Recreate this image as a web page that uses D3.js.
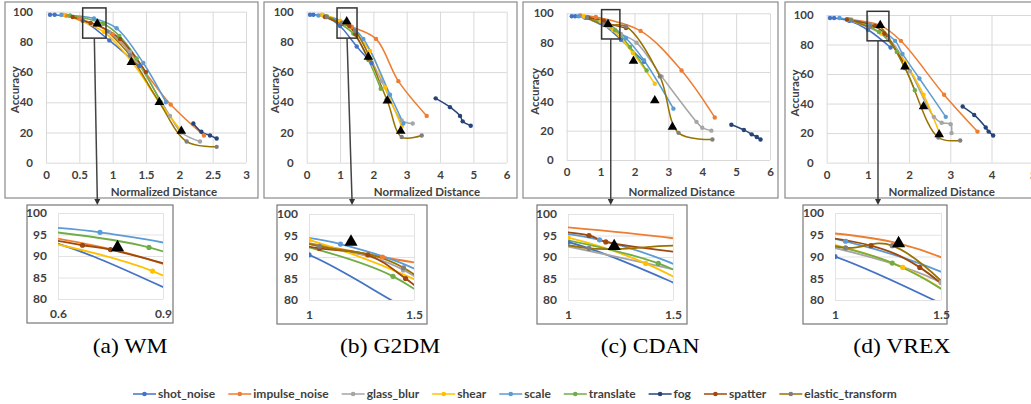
<!DOCTYPE html>
<html><head><meta charset="utf-8">
<script src="https://cdn.jsdelivr.net/npm/d3@7"></script>
<style>body{margin:0;background:#fff}svg{display:block}</style>
</head><body>
<svg id="c" width="1031" height="404"></svg>
<script>
// ---------- data ----------
const seriesNames = ["shot_noise","impulse_noise","glass_blur","shear","scale","translate","fog","spatter","elastic_transform"];
const lineColors   = ["#4472C4","#ED7D31","#A5A5A5","#FFC000","#5B9BD5","#70AD47","#264478","#9E480E","#997300"];
const markerColors = ["#4472C4","#ED7D31","#A5A5A5","#FFC000","#5B9BD5","#70AD47","#264478","#9E480E","#7F7F7F"];
const captions = ["(a) WM","(b) G2DM","(c) CDAN","(d) VREX"];
const yTicks = [0,20,40,60,80,100];
const insetYTicks = [80,85,90,95,100];
const xTicksWM = [0,0.5,1,1.5,2,2.5,3];
const xTicksG2DM = [0,1,2,3,4,5,6];
const xTicksCDAN = [0,1,2,3,4,5,6];
const xTicksVREX = [0,1,2,3,4,5];

// WM
const wmSeries = [
  [[0.06,98],[0.13,98],[0.55,94],[0.95,81],[1.4,64]],
  [[0.3,97.5],[0.5,95.5],[1.0,85],[1.87,38.5],[2.37,18]],
  [[0.95,86.5],[1.26,73.5],[1.86,31],[2.03,20],[2.31,14]],
  [[0.26,98],[0.87,86.5],[1.3,66],[1.7,40],[2.03,21]],
  [[0.23,98],[0.72,95.5],[1.06,89],[1.46,66],[1.8,40]],
  [[0.36,97.5],[0.86,92],[1.1,84],[1.36,69],[1.72,40]],
  [[2.21,26],[2.33,20.5],[2.46,18],[2.56,16]],
  [[0.4,96.5],[0.67,92.5],[0.75,91.5],[1.11,82],[1.5,60]],
  [[0.92,87],[1.26,71],[1.7,40],[2.11,14],[2.56,10.5]]
];
const wmTriangles = [[0.77,92],[1.28,66.5],[1.7,40],[2.03,21]];

// G2DM
const g2dmSeries = [
  [[0.1,98],[0.2,98],[0.6,96.5],[1.0,90.5],[1.5,77],[1.95,66]],
  [[0.5,97.5],[1.35,90],[2.08,82],[2.75,54],[3.6,31]],
  [[0.55,97],[1.05,92.5],[1.45,87],[2.25,54],[2.85,28],[3.18,26]],
  [[0.45,98],[1.0,94],[1.9,74],[2.35,50],[2.85,24]],
  [[0.35,97.5],[1.15,93],[1.7,82],[2.5,45],[2.9,26]],
  [[0.6,97],[1.4,85.5],[1.85,68],[2.22,49]],
  [[3.87,42.6],[4.3,36.8],[4.6,31],[4.68,27.4],[4.92,24.5]],
  [[0.55,96.5],[1.05,92],[1.28,90.5],[1.46,85],[1.85,69]],
  [[0.6,96.5],[1.05,92.5],[1.45,87.5],[2.4,42],[2.85,17],[3.45,18]]
];
const g2dmTriangles = [[1.2,93.5],[1.85,70],[2.42,41],[2.82,21]];

// CDAN
const cdanSeries = [
  [[0.15,98],[0.25,98],[0.55,97],[1.0,93.5],[1.6,82],[2.28,67]],
  [[0.4,98.5],[0.86,97.5],[2.18,88],[3.39,61],[4.37,29]],
  [[0.5,97.5],[1.6,86],[2.06,80],[2.8,57],[3.83,26],[4.0,22],[4.27,20]],
  [[0.51,98],[1.0,94.5],[1.37,88.5],[1.95,73],[2.6,52]],
  [[0.35,98],[1.15,94],[1.75,83],[2.28,68],[3.15,35]],
  [[0.6,97.5],[1.43,88.5],[1.87,77],[2.36,61]],
  [[4.86,24],[5.23,20.5],[5.46,17.5],[5.61,15.7],[5.72,14]],
  [[0.64,97],[1.1,95],[1.18,93.5],[1.75,90]],
  [[0.6,97],[1.1,92],[1.75,91],[2.75,57],[3.3,18.5],[4.3,14]]
];
const cdanTriangles = [[1.22,92.5],[1.97,67.5],[2.6,40.5],[3.12,22.5]];

// VREX
const vrexSeries = [
  [[0.08,98],[0.18,98],[0.55,96],[1.0,90],[1.55,78]],
  [[0.5,97],[1.3,93],[1.8,82.5],[2.85,46],[3.66,21]],
  [[0.5,97],[1.5,84],[2.02,62],[2.6,31],[2.79,27],[3.01,26],[3.03,20]],
  [[0.6,97],[1.32,87.5],[1.9,68],[2.35,46],[2.75,19]],
  [[0.31,98],[1.05,93.5],[1.66,82.5],[1.84,73.6],[2.25,57],[2.89,31]],
  [[0.55,97],[1.27,88.5],[1.7,75],[2.14,49]],
  [[3.3,38],[3.58,32.3],[3.86,23.8],[3.93,21],[4.04,18.4]],
  [[0.49,97],[1.17,92.5],[1.4,87.5],[1.9,66]],
  [[0.6,96.5],[1.05,92],[1.27,92.5],[1.9,64],[2.71,17],[3.24,15]]
];
const vrexTriangles = [[1.3,93],[1.9,65],[2.35,38],[2.73,19]];

// ---------- layout ----------
const layout = [
  {series: wmSeries, tri: wmTriangles, xTicks: xTicksWM, xDomain:[0,3], xRange:[46,246], yRange:[162.7,11.7],
   box:[5,2,258,198], accX:15, titleX:164, zoomX:[0.55,0.9], arrowDx:3,
   inset:{box:[27,205,173,323], xDomain:[0.6,0.9], xRange:[58,163], yRange:[299,213], xLabels:["0.6","0.9"]},
   capX:92.7},
  {series: g2dmSeries, tri: g2dmTriangles, xTicks: xTicksG2DM, xDomain:[0,6], xRange:[306.7,506.7], yRange:[162.7,11.7],
   box:[264,2,517,198], accX:275, titleX:427, zoomX:[0.91,1.51], arrowDx:5,
   inset:{box:[277,205,427,324], xDomain:[1,1.5], xRange:[309,414], yRange:[300,214], xLabels:["1","1.5"]},
   capX:340},
  {series: cdanSeries, tri: cdanTriangles, xTicks: xTicksCDAN, xDomain:[0,6], xRange:[566.7,770], yRange:[160,13.3],
   box:[523,2,778,198], accX:535, titleX:681.7, zoomX:[1.03,1.57], arrowDx:0,
   inset:{box:[537,205,687,324], xDomain:[1,1.5], xRange:[568,673], yRange:[300,214], xLabels:["1","1.5"]},
   capX:600.7},
  {series: vrexSeries, tri: vrexTriangles, xTicks: xTicksVREX, xDomain:[0,5], xRange:[826.7,1032.7], yRange:[162.6,15],
   box:[785,2,1040,198], accX:795, titleX:941.7, zoomX:[0.98,1.51], arrowDx:0,
   inset:{box:[803,205,947,324], xDomain:[1,1.5], xRange:[835,941], yRange:[300,213], xLabels:["1","1.5"]},
   capX:853.3}
];

const FONT = "Lato, 'Open Sans', sans-serif";
const TXT = "#404040";
const svg = d3.select("#c");
svg.append("rect").attr("width",1031).attr("height",404).attr("fill","#fff");

const curve = d3.curveCatmullRom.alpha(0.5);

function drawSeries(g, x, y, series, tri, lw, r, triSize){
  const line = d3.line().x(d=>x(d[0])).y(d=>y(d[1])).curve(curve);
  series.forEach((pts,i)=>{
    g.append("path").datum(pts).attr("d",line).attr("fill","none")
      .attr("stroke",lineColors[i]).attr("stroke-width",lw).attr("stroke-linejoin","round");
  });
  series.forEach((pts,i)=>{
    g.selectAll(null).data(pts).enter().append("circle")
      .attr("cx",d=>x(d[0])).attr("cy",d=>y(d[1])).attr("r",r).attr("fill",markerColors[i]);
  });
  const sym = d3.symbol().type(d3.symbolTriangle).size(triSize);
  g.selectAll(null).data(tri).enter().append("path")
    .attr("d",sym).attr("transform",d=>`translate(${x(d[0])},${y(d[1])})`).attr("fill","#000");
}

layout.forEach((p,pi)=>{
  const g = svg.append("g");
  g.append("rect").attr("x",p.box[0]).attr("y",p.box[1]).attr("width",p.box[2]-p.box[0]).attr("height",p.box[3]-p.box[1])
    .attr("fill","#fff").attr("stroke","#8a8a8a").attr("stroke-width",1.2);
  const x = d3.scaleLinear().domain(p.xDomain).range(p.xRange);
  const y = d3.scaleLinear().domain([0,100]).range(p.yRange);
  const ph = p.yRange[0]-p.yRange[1], pw = p.xRange[1]-p.xRange[0];

  const gx = g.append("g").attr("transform",`translate(0,${p.yRange[0]})`)
    .call(d3.axisBottom(x).tickValues(p.xTicks).tickSize(-ph).tickPadding(8).tickFormat(d3.format("~g")));
  const gy = g.append("g").attr("transform",`translate(${p.xRange[0]},0)`)
    .call(d3.axisLeft(y).tickValues(yTicks).tickSize(-pw).tickPadding(13));
  [gx,gy].forEach(a=>{
    a.select(".domain").remove();
    a.selectAll("line").attr("stroke","#d9d9d9").attr("stroke-width",1);
    a.selectAll("text").attr("fill",TXT).style("font-family",FONT).style("font-size","11.5px").style("font-weight","700");
  });

  g.append("text").attr("transform",`translate(${p.accX},${p.yRange[1]+78}) rotate(-90)`)
    .attr("text-anchor","middle").attr("dy","0.35em").attr("fill",TXT)
    .style("font-family",FONT).style("font-size","11.5px").style("font-weight","700").text("Accuracy");
  g.append("text").attr("x",p.titleX).attr("y",191.5).attr("dy","0.35em").attr("text-anchor","middle").attr("fill",TXT)
    .style("font-family",FONT).style("font-size","11.5px").style("font-weight","700").text("Normalized Distance");

  drawSeries(g.append("g"), x, y, p.series, p.tri, 1.5, 2.2, 40);

  // zoom rectangle
  const zx0 = x(p.zoomX[0]), zx1 = x(p.zoomX[1]), zy0 = y(102.5), zy1 = y(82.5);
  g.append("rect").attr("x",zx0).attr("y",zy0).attr("width",zx1-zx0).attr("height",zy1-zy0)
    .attr("fill","none").attr("stroke","#333").attr("stroke-width",1.5);

  // inset
  const ins = p.inset;
  const xi = d3.scaleLinear().domain(ins.xDomain).range(ins.xRange);
  const yi = d3.scaleLinear().domain([80,100]).range(ins.yRange);
  const gi = svg.append("g");
  gi.append("rect").attr("x",ins.box[0]).attr("y",ins.box[1]).attr("width",ins.box[2]-ins.box[0]).attr("height",ins.box[3]-ins.box[1])
    .attr("fill","#fff").attr("stroke","#777").attr("stroke-width",1.2);
  const iph = ins.yRange[0]-ins.yRange[1], ipw = ins.xRange[1]-ins.xRange[0];
  const gix = gi.append("g").attr("transform",`translate(0,${ins.yRange[0]})`)
    .call(d3.axisBottom(xi).tickValues(ins.xDomain).tickSize(-iph).tickPadding(10).tickFormat((d,i)=>ins.xLabels[i]));
  const giy = gi.append("g").attr("transform",`translate(${ins.xRange[0]},0)`)
    .call(d3.axisLeft(yi).tickValues(insetYTicks).tickSize(-ipw).tickPadding(11));
  [gix,giy].forEach(a=>{
    a.select(".domain").remove();
    a.selectAll("line").attr("stroke","#e3e3e3").attr("stroke-width",1);
    a.selectAll("text").attr("fill",TXT).style("font-family",FONT).style("font-size","12px").style("font-weight","700");
  });
  const cid = "clip"+pi;
  gi.append("clipPath").attr("id",cid).append("rect")
    .attr("x",ins.xRange[0]).attr("y",ins.yRange[1]).attr("width",ipw).attr("height",iph);
  drawSeries(gi.append("g").attr("clip-path",`url(#${cid})`), xi, yi, p.series, p.tri, 1.8, 2.6, 75);

  // connector + arrow
  const cx = (zx0+zx1)/2, ax = cx + p.arrowDx, top = ins.box[1];
  svg.append("line").attr("x1",cx).attr("y1",zy1).attr("x2",ax).attr("y2",top-4)
    .attr("stroke","#444").attr("stroke-width",1.5);
  svg.append("path").attr("d",`M${ax-3},${top-6}L${ax+3},${top-6}L${ax},${top}Z`).attr("fill","#333");

  // caption
  svg.append("text").attr("transform",`translate(${p.capX},353) scale(1.18,1)`).attr("fill","#000")
    .style("font-family","'Liberation Serif','Times New Roman',serif").style("font-size","20px").text(captions[pi]);
});

// legend
const lg = svg.append("g");
let lx = 133; const ly = 394;
seriesNames.forEach((name,i)=>{
  lg.append("line").attr("x1",lx).attr("x2",lx+23).attr("y1",ly).attr("y2",ly).attr("stroke",lineColors[i]).attr("stroke-width",1.5);
  lg.append("circle").attr("cx",lx+11.5).attr("cy",ly).attr("r",2.3).attr("fill",markerColors[i]);
  const t = lg.append("text").attr("x",lx+25).attr("y",ly).attr("dy","0.35em").attr("fill",TXT)
    .style("font-family",FONT).style("font-size","12px").style("font-weight","700").text(name);
  lx += 25 + t.node().getComputedTextLength() + 13;
});
</script>
</body></html>
